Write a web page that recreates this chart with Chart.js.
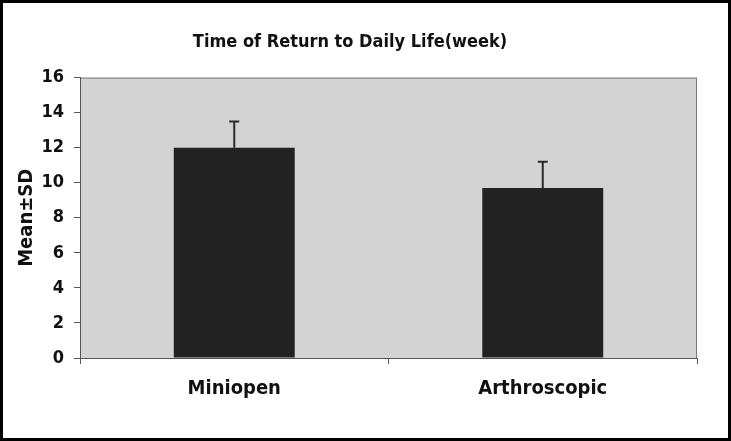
<!DOCTYPE html>
<html>
<head>
<meta charset="utf-8">
<script src="https://cdn.jsdelivr.net/npm/chart.js"></script>
<style>
  html, body { margin: 0; padding: 0; background: #fff; }
  #box { width: 731px; height: 441px; box-sizing: border-box; border: 3px solid #000; }
</style>
</head>
<body>
<div id="box"><canvas id="myChart" width="725" height="435"></canvas></div>

<script>
// Data
const categories = ['Miniopen', 'Arthroscopic'];
const means = [12, 9.7];
const sds = [1.5, 1.5];
const yTicks = [0, 2, 4, 6, 8, 10, 12, 14, 16];

const FONT = "'Liberation Sans Narrow', 'DejaVu Sans Condensed', sans-serif";

// grey plot background + frame
const plotBg = {
  id: 'plotBg',
  beforeDraw(chart) {
    const { ctx, chartArea: a } = chart;
    ctx.save();
    ctx.fillStyle = '#d3d3d3';
    ctx.fillRect(a.left, a.top, a.right - a.left, a.bottom - a.top);
    ctx.strokeStyle = '#7a7a7a';
    ctx.lineWidth = 1;
    ctx.strokeRect(a.left + 0.5, a.top + 0.5, a.right - a.left - 1, a.bottom - a.top);
    ctx.restore();
  }
};

// upward error bars (mean + sd)
const errorBars = {
  id: 'errorBars',
  afterDatasetsDraw(chart) {
    const { ctx } = chart;
    const y = chart.scales.y;
    const meta = chart.getDatasetMeta(0);
    ctx.save();
    ctx.strokeStyle = '#2a2a2a';
    ctx.lineWidth = 2;
    meta.data.forEach((bar, i) => {
      const top = y.getPixelForValue(means[i] + sds[i]);
      const base = y.getPixelForValue(means[i]);
      ctx.beginPath();
      ctx.moveTo(bar.x, base);
      ctx.lineTo(bar.x, top);
      ctx.moveTo(bar.x - 5, top);
      ctx.lineTo(bar.x + 5, top);
      ctx.stroke();
    });
    ctx.restore();
  }
};

const config = {
  type: 'bar',
  data: {
    labels: categories,
    datasets: [{
      data: means,
      backgroundColor: '#222222',
      borderWidth: 0,
      categoryPercentage: 1,
      barPercentage: 0.392
    }]
  },
  options: {
    responsive: false,
    animation: false,
    layout: { padding: { left: 0, right: 31, top: 0, bottom: 0 } },
    plugins: {
      legend: { display: false },
      tooltip: { enabled: false },
      title: {
        display: true,
        text: 'Time of Return to Daily Life(week)',
        color: '#111',
        font: { family: FONT, size: 18, weight: 'bold' },
        padding: { top: 29, bottom: 24 }
      }
    },
    scales: {
      x: {
        grid: { display: true, offset: true, drawOnChartArea: false, tickLength: 6, color: '#555' },
        border: { color: '#555', width: 1 },
        ticks: { color: '#111', padding: 13, font: { family: FONT, size: 20, weight: 'bold' } },
        afterFit(s) { s.height = 80; }
      },
      y: {
        min: 0,
        max: 16,
        afterBuildTicks(s) { s.ticks = yTicks.map(v => ({ value: v })); },
        grid: { drawOnChartArea: false, tickLength: 6, color: '#555' },
        border: { color: '#555', width: 1 },
        ticks: { color: '#111', padding: 10, font: { family: FONT, size: 18, weight: 'bold' } },
        title: {
          display: true,
          text: 'Mean±SD',
          color: '#111',
          font: { family: FONT, size: 20, weight: 'bold' },
          padding: { top: 12, bottom: 0 }
        },
        afterFit(s) { s.width = 77; }
      }
    }
  },
  plugins: [plotBg, errorBars]
};

const myChart = new Chart(document.getElementById('myChart'), config);
</script>
</body>
</html>
